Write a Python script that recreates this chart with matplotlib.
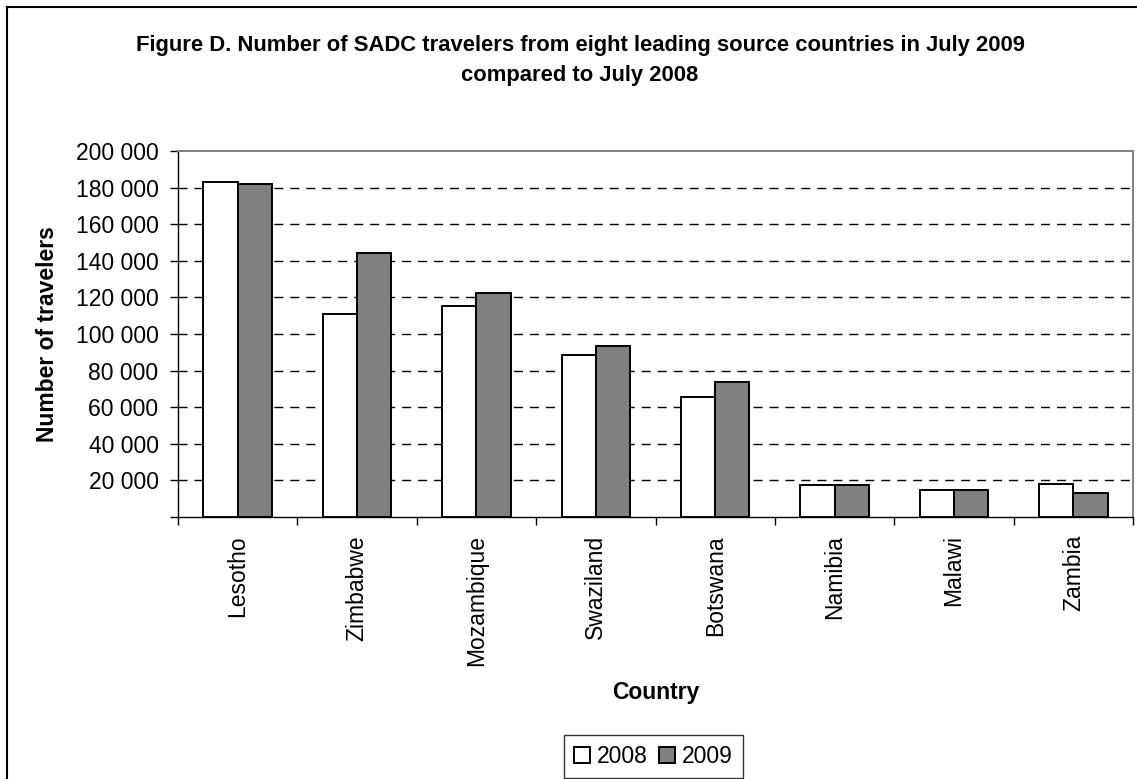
import matplotlib
matplotlib.use("Agg")
import matplotlib.pyplot as plt
import numpy as np
from matplotlib.lines import Line2D

plt.rcParams['font.family'] = ['Liberation Sans', 'DejaVu Sans']

countries = ["Lesotho", "Zimbabwe", "Mozambique", "Swaziland", "Botswana",
             "Namibia", "Malawi", "Zambia"]
travelers_2008 = [183000, 111000, 115200, 88400, 65700, 17400, 14500, 18300]
travelers_2009 = [182000, 144000, 122200, 93700, 74000, 17400, 14500, 13200]
ytick_values = [20000, 40000, 60000, 80000, 100000, 120000, 140000, 160000, 180000, 200000]
ytick_labels = ["20 000", "40 000", "60 000", "80 000", "100 000", "120 000",
                "140 000", "160 000", "180 000", "200 000"]

W, H = 1137, 779
fig = plt.figure(figsize=(W / 100, H / 100), dpi=100)
ax = fig.add_axes([178 / W, 1 - 517 / H, 955 / W, 366 / H])

x = np.arange(len(countries))
bw = 0.287
ax.bar(x - bw / 2, travelers_2008, width=bw, color="white", edgecolor="black",
       linewidth=1.4, label="2008", zorder=3)
ax.bar(x + bw / 2, travelers_2009, width=bw, color="#808080", edgecolor="black",
       linewidth=1.4, label="2009", zorder=3)

ax.set_xlim(-0.5, len(countries) - 0.5)
ax.set_ylim(0, 200000)
ax.set_yticks([0] + ytick_values)
ax.set_yticklabels([""] + ytick_labels, fontsize=16.5)
ax.set_xticks(x)
ax.set_xticklabels(countries, rotation=90, fontsize=16.5)
ax.tick_params(axis="x", which="major", length=0, pad=13)
ax.set_xticks(np.arange(len(countries) + 1) - 0.5, minor=True)
ax.tick_params(axis="x", which="minor", length=6, width=1.0, direction="out", color="black")
ax.tick_params(axis="y", length=6, width=1.0, direction="out", color="black", pad=8)

for v in ytick_values[:-1]:
    ax.axhline(v, color="black", linestyle=(0, (6.5, 5)), linewidth=1.0, zorder=1)

for s in ["top", "right"]:
    ax.spines[s].set_color("#808080")
    ax.spines[s].set_linewidth(1.4)
for s in ["left", "bottom"]:
    ax.spines[s].set_color("black")
    ax.spines[s].set_linewidth(1.0)

ax.set_ylabel("Number of travelers", fontsize=16.5, fontweight="bold", labelpad=12)
fig.text(656 / W, 1 - 692 / H, "Country", ha="center", va="center",
         fontsize=16.5, fontweight="bold")

fig.text(580 / W, 1 - 45 / H,
         "Figure D. Number of SADC travelers from eight leading source countries in July 2009",
         ha="center", va="center", fontsize=15.8, fontweight="bold")
fig.text(580 / W, 1 - 75 / H, "compared to July 2008",
         ha="center", va="center", fontsize=15.8, fontweight="bold")

leg = fig.legend(loc="center", bbox_to_anchor=(653.5 / W, 1 - 756.5 / H), ncol=2,
                 fontsize=16.5, frameon=True, fancybox=False, edgecolor="black",
                 handlelength=0.7, handleheight=0.7, handletextpad=0.3,
                 columnspacing=0.5, borderpad=0.45, borderaxespad=0)
leg.get_frame().set_linewidth(1.0)

# outer chart border (left and top visible in the cropped chart)
fig.add_artist(Line2D([7 / W, 7 / W], [0, 1 - 7 / H], transform=fig.transFigure,
                      color="black", linewidth=1.5))
fig.add_artist(Line2D([7 / W, 1], [1 - 7 / H, 1 - 7 / H], transform=fig.transFigure,
                      color="black", linewidth=1.5))

fig.savefig("out.png", dpi=100)
